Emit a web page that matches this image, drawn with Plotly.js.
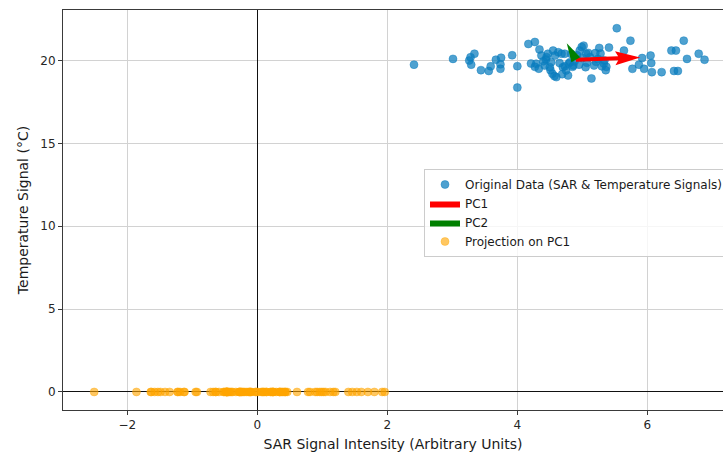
<!DOCTYPE html>
<html>
<head>
<meta charset="utf-8">
<script src="https://cdn.plot.ly/plotly-3.0.1.min.js"></script>
<style>
  html, body { margin: 0; padding: 0; background: #ffffff; overflow: hidden; }
  #chart { width: 723px; height: 452px; overflow: hidden; }
</style>
</head>
<body>
<div id="chart"></div>
<script>
// SAR intensity vs. temperature samples
const sarIntensity = [
  2.41, 3.01, 3.26, 3.28, 3.29, 3.34, 3.44, 3.56, 3.59, 3.67,
  3.74, 3.74, 3.75, 3.92, 4.00, 4.00, 4.17, 4.27, 4.34, 4.21,
  4.29, 4.27, 4.33, 4.37, 4.42, 4.44, 4.47, 4.50, 4.51, 4.55,
  4.54, 4.57, 4.60, 4.63, 4.68, 4.70, 4.69, 4.73, 4.73, 4.75,
  4.78, 4.79, 4.81, 4.85, 4.86, 4.92, 4.96, 4.99, 5.02, 5.06,
  5.07, 5.09, 5.14, 5.20, 5.21, 5.26, 5.28, 5.33, 5.34, 5.36,
  5.37, 5.41, 5.53, 5.64, 5.74, 5.77, 5.87, 5.92, 5.95, 6.05,
  6.06, 6.07, 6.22, 6.37, 6.44, 6.41, 6.47, 6.56, 6.61, 6.79,
  6.88, 4.45, 4.58, 4.65, 4.83, 4.88, 4.95, 5.00, 5.05, 5.12,
  5.18, 5.24, 4.52, 5.30, 4.40
];
const temperature = [
  19.75, 20.10, 20.00, 20.20, 19.75, 20.41, 19.42, 19.37, 19.65, 20.05,
  19.77, 19.50, 20.17, 20.32, 19.66, 18.37, 21.00, 21.12, 20.67, 19.82,
  19.81, 19.62, 19.51, 20.31, 19.70, 20.06, 20.41, 19.60, 19.42, 20.60,
  19.20, 19.06, 19.00, 20.50, 20.41, 19.60, 19.18, 20.41, 19.66, 19.40,
  19.10, 19.82, 19.90, 19.62, 19.70, 20.32, 20.60, 20.82, 20.90, 20.41,
  19.86, 20.46, 18.92, 20.45, 19.92, 20.76, 20.42, 19.82, 20.00, 19.42,
  19.62, 20.78, 21.95, 20.60, 21.20, 19.50, 19.75, 20.15, 19.50, 20.30,
  19.85, 19.30, 19.30, 20.60, 20.60, 19.37, 19.37, 21.20, 20.10, 20.41,
  20.05, 20.20, 20.30, 19.85, 20.40, 19.95, 19.75, 20.15, 19.60, 20.20,
  19.70, 20.10, 19.90, 19.65, 19.95
];

// Scores of the samples along the first principal component
const pc1Scores = [
  -2.51, -1.86, -1.63, -1.58, -1.64, -1.49, -1.53, -1.42, -1.35, -1.22,
  -1.19, -1.23, -1.12, -0.93, -0.95, -1.13, -0.59, -0.47, -0.47, -0.72,
  -0.64, -0.68, -0.64, -0.49, -0.52, -0.45, -0.38, -0.46, -0.47, -0.27,
  -0.48, -0.47, -0.44, -0.20, -0.17, -0.26, -0.33, -0.12, -0.22, -0.24,
  -0.25, -0.14, -0.11, -0.11, -0.09, 0.06, 0.14, 0.20, 0.24, 0.21,
  0.14, 0.25, 0.08, 0.35, 0.29, 0.46, 0.43, 0.39, 0.43, 0.37,
  0.41, 0.61, 0.89, 0.81, 0.99, 0.78, 0.92, 1.02, 0.96, 1.17,
  1.12, 1.05, 1.20, 1.53, 1.60, 1.40, 1.46, 1.80, 1.70, 1.92,
  1.96, -0.42, -0.28, -0.28, -0.02, -0.03, 0.01, 0.11, 0.09, 0.24,
  0.23, 0.34, -0.40, 0.34, -0.51
];
const projectionLevel = 0;

// Sample mean and principal directions
const pcaMean = [4.90, 20.05];
const pc1Vector = [0.99, 0.14];
const pc2Vector = [-0.14, 0.99];

const xTickValues = [-2, 0, 2, 4, 6];
const xTickLabels = ['\u22122', '0', '2', '4', '6'];
const yTickValues = [0, 5, 10, 15, 20];
const yTickLabels = ['0', '5', '10', '15', '20'];

// Figure geometry
const W = 723, H = 452;
const margin = { l: 63, r: 0, t: 10, b: 42, autoexpand: false };
const xRange = [-2.99, 7.164];
const yRange = [-1.09, 23.05];
const plotW = W - margin.l - margin.r;
const plotH = H - margin.t - margin.b;
const pxPerX = plotW / (xRange[1] - xRange[0]);
const pxPerY = plotH / (yRange[1] - yRange[0]);

// Quiver-style arrow outline, shaped in screen pixels and mapped back to data units
function arrowOutline(origin, vec, shaftW, headW, headL, headAxisL) {
  const dx = vec[0] * pxPerX, dy = vec[1] * pxPerY;
  const len = Math.hypot(dx, dy);
  const ux = dx / len, uy = dy / len;
  const nx = -uy, ny = ux;
  let pts;
  if (len <= headL) {
    // short vector: only the head is drawn
    const hw = headW / 2;
    pts = [[0, hw], [len, 0], [0, -hw]];
  } else {
    const sw = shaftW / 2, hw = headW / 2;
    pts = [
      [0, sw], [len - headAxisL, sw], [len - headL, hw], [len, 0],
      [len - headL, -hw], [len - headAxisL, -sw], [0, -sw]
    ];
  }
  const xs = [], ys = [];
  pts.forEach(([a, b]) => {
    const px = a * ux + b * nx, py = a * uy + b * ny;
    xs.push(origin[0] + px / pxPerX);
    ys.push(origin[1] + py / pxPerY);
  });
  xs.push(xs[0]); ys.push(ys[0]);
  return { x: xs, y: ys };
}

const pc1Shape = arrowOutline(pcaMean, pc1Vector, 4, 14, 25, 22);
const pc2Shape = arrowOutline(pcaMean, pc2Vector, 4, 10, 25, 22);

const traces = [
  {
    type: 'scatter', mode: 'markers',
    x: sarIntensity, y: temperature,
    name: 'Original Data (SAR &amp; Temperature Signals)',
    marker: { size: 8, color: 'rgba(10,125,190,0.72)', line: { width: 0.6, color: 'rgba(10,125,190,0.72)' } },
    hoverinfo: 'skip'
  },
  {
    type: 'scatter', mode: 'lines',
    x: pc1Shape.x, y: pc1Shape.y,
    fill: 'toself', fillcolor: '#ff0000',
    line: { width: 0, color: '#ff0000' },
    name: 'PC1', hoverinfo: 'skip'
  },
  {
    type: 'scatter', mode: 'lines',
    x: pc2Shape.x, y: pc2Shape.y,
    fill: 'toself', fillcolor: '#008000',
    line: { width: 0, color: '#008000' },
    name: 'PC2', hoverinfo: 'skip'
  },
  {
    type: 'scatter', mode: 'markers',
    x: pc1Scores, y: pc1Scores.map(() => projectionLevel),
    name: 'Projection on PC1',
    marker: { size: 8, color: 'rgba(255,165,0,0.62)', line: { width: 0.6, color: 'rgba(255,165,0,0.62)' } },
    hoverinfo: 'skip'
  }
];

const axisCommon = {
  showgrid: true, gridcolor: '#d2d2d2', gridwidth: 1,
  zeroline: true, zerolinecolor: '#111111', zerolinewidth: 1,
  showline: true, linecolor: '#3a3a3a', linewidth: 1,
  ticks: 'outside', ticklen: 4, tickwidth: 1, tickcolor: '#3a3a3a',
  tickfont: { family: 'DejaVu Sans', size: 12, color: '#262626' },
  tickmode: 'array', fixedrange: true, automargin: false
};

const layout = {
  width: W, height: H,
  margin: margin,
  paper_bgcolor: '#ffffff', plot_bgcolor: '#ffffff',
  font: { family: 'DejaVu Sans', color: '#262626' },
  showlegend: true,
  xaxis: Object.assign({}, axisCommon, {
    range: xRange, mirror: true,
    tickvals: xTickValues, ticktext: xTickLabels,
    title: { text: 'SAR Signal Intensity (Arbitrary Units)', font: { family: 'DejaVu Sans', size: 14, color: '#1a1a1a' }, standoff: 7 }
  }),
  yaxis: Object.assign({}, axisCommon, {
    range: yRange,
    tickvals: yTickValues, ticktext: yTickLabels,
    title: { text: 'Temperature Signal (°C)', font: { family: 'DejaVu Sans', size: 14, color: '#1a1a1a' }, standoff: 8 }
  }),
  legend: {
    x: (424 - margin.l) / plotW, y: (H - margin.b - 169) / plotH,
    xanchor: 'left', yanchor: 'top',
    bgcolor: 'rgba(255,255,255,0.8)', bordercolor: '#cccccc', borderwidth: 1,
    font: { family: 'DejaVu Sans', size: 12, color: '#1a1a1a' },
    itemwidth: 30
  }
};

Plotly.newPlot('chart', traces, layout, { displayModeBar: false, staticPlot: true });
</script>
</body>
</html>
